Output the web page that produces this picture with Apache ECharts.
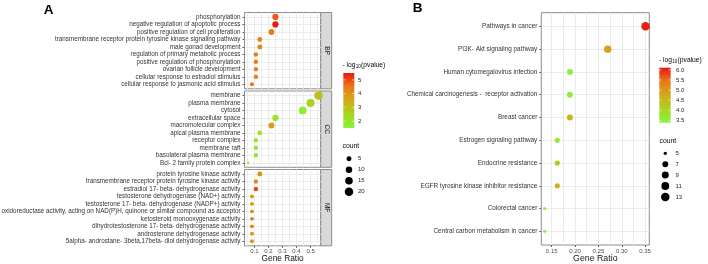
<!DOCTYPE html>
<html><head><meta charset="utf-8">
<script src="https://cdn.jsdelivr.net/npm/echarts@6/dist/echarts.min.js"></script>
<style>html,body{margin:0;padding:0;background:#fff}#c{width:708px;height:264px}</style>
</head><body><div id="c"></div>
<script>
// ---------- DATA ----------
const bpTerms = ['phosphorylation','negative regulation of apoptotic process','positive regulation of cell proliferation','transmembrane receptor protein tyrosine kinase signaling pathway','male gonad development','regulation of primary metabolic process','positive regulation of phosphorylation','ovarian follicle development','cellular response to estradiol stimulus','cellular response to jasmonic acid stimulus'];
const bpRatio = [0.25,0.25,0.222,0.139,0.139,0.111,0.111,0.111,0.111,0.083];
const bpCount = [9,9,8,5,5,4,4,4,4,3];
const bpLogP  = [4.8,5.45,4.4,4.3,4.3,4.4,4.4,4.3,4.3,4.6];

const ccTerms = ['membrane','plasma membrane','cytosol','extracellular space','macromolecular complex','apical plasma membrane','receptor complex','membrane raft','basolateral plasma membrane','Bcl- 2 family protein complex'];
const ccRatio = [0.556,0.5,0.444,0.25,0.222,0.139,0.111,0.111,0.111,0.056];
const ccCount = [20,18,16,9,8,5,4,4,4,2];
const ccLogP  = [3.0,2.5,1.7,2.0,3.8,2.1,1.95,1.95,1.95,1.6];

const mfTerms = ['protein tyrosine kinase activity','transmembrane receptor protein tyrosine kinase activity','estradiol 17- beta- dehydrogenase activity','testosterone dehydrogenase (NAD+) activity','testosterone 17- beta- dehydrogenase (NADP+) activity','oxidoreductase activity, acting on NAD(P)H, quinone or similar compound as acceptor','ketosteroid monooxygenase activity','dihydrotestosterone 17- beta- dehydrogenase activity','androsterone dehydrogenase activity','5alpha- androstane- 3beta,17beta- diol dehydrogenase activity'];
const mfRatio = [0.139,0.111,0.111,0.083,0.083,0.083,0.083,0.083,0.083,0.083];
const mfCount = [5,4,4,3,3,3,3,3,3,3];
const mfLogP  = [4.1,4.0,5.0,3.9,3.9,3.9,4.4,4.4,3.9,3.95];

const kgTerms = ['Pathways in cancer','PI3K- Akt signaling pathway','Human cytomegalovirus infection','Chemical carcinogenesis -  receptor activation','Breast cancer','Estrogen signaling pathway','Endocrine resistance','EGFR tyrosine kinase inhibitor resistance','Colorectal cancer','Central carbon metabolism in cancer'];
const kgRatio = [0.351,0.270,0.189,0.189,0.189,0.162,0.162,0.162,0.135,0.135];
const kgCount = [13,10,7,7,7,6,6,6,5,5];
const kgLogP  = [6.05,4.88,3.5,3.5,4.6,3.6,4.3,4.75,3.42,3.45];

const aTicks = [0.1,0.2,0.3,0.4,0.5];
const aGridLines = [0.05,0.1,0.15,0.2,0.25,0.3,0.35,0.4,0.45,0.5,0.55];
const bTicks = [0.15,0.2,0.25,0.3,0.35];
const bGridLines = [0.15,0.175,0.2,0.225,0.25,0.275,0.3,0.325,0.35];
const rowTicks = [1,2,3,4,5,6,7,8,9,10];
const aColorTicks = [2,3,4,5];
const bColorTicks = [3.5,4.0,4.5,5.0,5.5,6.0];
const aCountKeys = [5,10,15,20];
const bCountKeys = [5,7,9,11,13];
const facetNames = ['BP','CC','MF'];

// ---------- STYLE ----------
const FONT = "'Liberation Sans', Arial, Helvetica, sans-serif";
const colorStops = ['#86f43c','#aad41e','#d2aa1c','#e87a18','#ee1414'];
const A_MIN = 0.03, A_MAX = 0.572, A_C = [1.5, 5.5];
const B_MIN = 0.1277, B_MAX = 0.359, B_C = [3.38, 6.11];
const sizeA = c => 2.5 + 6 * Math.sqrt(Math.max(0, (c - 2) / 18));
const sizeB = c => 3.3 + 5.2 * Math.sqrt(Math.max(0, (c - 5) / 8));

const aLeft = 244.5, aW = 76.2, aH = 76.3, aTops = [12.5, 91, 169.5];
const bLeft = 541.3, bTop = 12.7, bW = 108, bH = 232.3;
const A_LABEL_FS = 6.3, B_LABEL_FS = 6.38;

const grids = aTops.map(t => ({left:aLeft, top:t, width:aW, height:aH}))
  .concat([{left:bLeft, top:bTop, width:bW, height:bH}])
  .map(g => Object.assign(g, {show:true, borderColor:'#8c8c8c', borderWidth:1, backgroundColor:'transparent', containLabel:false, outerBoundsMode:'none'}));

function gridX(gi, min, max, lines){
  return {type:'value', gridIndex:gi, min, max, position:'bottom',
    axisLine:{show:false}, axisLabel:{show:false},
    axisTick:{show:false, customValues:lines},
    splitLine:{show:true, customValues:lines, lineStyle:{color:'#ebebeb', width:1}},
    minorSplitLine:{show:false}};
}
function tickX(gi, min, max, ticks, dec, nameSize, gap){
  return {type:'value', gridIndex:gi, min, max, position:'bottom',
    axisLine:{show:false}, splitLine:{show:false},
    axisTick:{show:true, customValues:ticks, length:2, lineStyle:{color:'#333', width:0.8}},
    axisLabel:{show:true, customValues:ticks, formatter:v => v.toFixed(dec), fontSize:6, color:'#4d4d4d', margin:3, fontFamily:FONT},
    name:'Gene Ratio', nameLocation:'middle', nameGap:gap, nameMoveOverlap:false,
    nameTextStyle:{fontSize:nameSize, color:'#111', fontFamily:FONT, verticalAlign:'top'}};
}
function yAx(gi, cats, fs){
  return {type:'value', gridIndex:gi, min:0.4, max:cats.length + 0.6, inverse:true,
    axisLine:{show:false},
    axisTick:{show:true, customValues:rowTicks, length:2, lineStyle:{color:'#333', width:0.8}},
    splitLine:{show:true, customValues:rowTicks, lineStyle:{color:'#ebebeb', width:1}},
    axisLabel:{show:true, customValues:rowTicks, formatter:v => cats[Math.round(v) - 1] || '', fontSize:fs, color:'#333', margin:4, fontFamily:FONT}};
}
function mkSeries(xi, yi, ratio, count, logp, sizeFn){
  return {type:'scatter', xAxisIndex:xi, yAxisIndex:yi, silent:true,
    data: ratio.map((r, i) => [r, i + 1, count[i], logp[i]]),
    symbol:'circle', symbolSize: d => sizeFn(d[2]), itemStyle:{opacity:1}, animation:false};
}

const xAxes = [gridX(0,A_MIN,A_MAX,aGridLines), gridX(1,A_MIN,A_MAX,aGridLines), gridX(2,A_MIN,A_MAX,aGridLines),
  tickX(2,A_MIN,A_MAX,aTicks,1,8.3,9.3), gridX(3,B_MIN,B_MAX,bGridLines), tickX(3,B_MIN,B_MAX,bTicks,2,8.8,9.2)];
const yAxes = [yAx(0,bpTerms,A_LABEL_FS), yAx(1,ccTerms,A_LABEL_FS), yAx(2,mfTerms,A_LABEL_FS), yAx(3,kgTerms,B_LABEL_FS)];
const series = [mkSeries(0,0,bpRatio,bpCount,bpLogP,sizeA), mkSeries(1,1,ccRatio,ccCount,ccLogP,sizeA),
  mkSeries(2,2,mfRatio,mfCount,mfLogP,sizeA), mkSeries(4,3,kgRatio,kgCount,kgLogP,sizeB)];

// ---------- LEGEND GRAPHICS ----------
const ctx = document.createElement('canvas').getContext('2d');
function measure(text, fs){ ctx.font = fs + 'px ' + FONT; return ctx.measureText(text).width; }
const g = [];
function txt(x, y, text, fs, opt){ g.push({type:'text', x, y, silent:true, style:Object.assign({text, fontSize:fs, fontFamily:FONT, fill:'#000', align:'left', verticalAlign:'middle'}, opt||{})}); }
function colorbar(x, y, w, h, range, ticks, dec, labelX){
  const grad = new echarts.graphic.LinearGradient(0,0,0,1, colorStops.slice().reverse().map((c,i)=>({offset:i/(colorStops.length-1), color:c})));
  g.push({type:'rect', shape:{x, y, width:w, height:h}, style:{fill:grad}, silent:true});
  ticks.forEach(v => {
    const ty = y + (range[1] - v) / (range[1] - range[0]) * h;
    g.push({type:'line', shape:{x1:x, y1:ty, x2:x+2.2, y2:ty}, style:{stroke:'#fff', lineWidth:0.6}, silent:true});
    g.push({type:'line', shape:{x1:x+w-2.2, y1:ty, x2:x+w, y2:ty}, style:{stroke:'#fff', lineWidth:0.6}, silent:true});
    txt(labelX, ty, v.toFixed(dec), 6, {fill:'#222'});
  });
}
function pTitle(x, y){
  const fs = 6.7, fsSub = 4.6;
  const p1 = '- log', p2 = '10', p3 = '(pvalue)';
  const w1 = measure(p1, fs), w2 = measure(p2, fsSub);
  txt(x, y, p1, fs);
  txt(x + w1 + 0.2, y + 2.2, p2, fsSub);
  txt(x + w1 + w2 + 0.5, y, p3, fs);
}
function countLegend(x, y0, step, keys, sizeFn, titleX, titleY, labelX){
  txt(titleX, titleY, 'count', 6.8);
  keys.forEach((k, i) => {
    const d = sizeFn(k);
    g.push({type:'circle', shape:{cx:x, cy:y0 + i*step, r:d/2}, style:{fill:'#000'}, silent:true});
    txt(labelX, y0 + i*step, String(k), 6, {fill:'#222'});
  });
}
// Panel A legends
pTitle(342.5, 65);
colorbar(343.3, 73, 11, 55, A_C, aColorTicks, 0, 358);
countLegend(349, 158.7, 11, aCountKeys, sizeA, 342.5, 146, 358);
// Panel B legends
pTitle(659, 60);
colorbar(659.3, 67.7, 11.4, 55, B_C, bColorTicks, 1, 676);
countLegend(665.3, 153.3, 10.9, bCountKeys, sizeB, 659.5, 141, 675.5);
// Facet strips
aTops.forEach((t, i) => {
  g.push({type:'rect', shape:{x:aLeft+aW, y:t, width:11, height:aH}, style:{fill:'#d9d9d9', stroke:'#8c8c8c', lineWidth:1}, silent:true});
  g.push({type:'text', x:aLeft+aW+5.7, y:t+aH/2, rotation:-Math.PI/2, silent:true,
    style:{text:facetNames[i], fontSize:6.5, fontFamily:FONT, fill:'#1a1a1a', align:'center', verticalAlign:'middle'}});
});
// Panel letters
txt(48.5, 10, 'A', 13.5, {fontWeight:'bold', align:'center'});
txt(417.5, 8, 'B', 13.5, {fontWeight:'bold', align:'center'});

const chart = echarts.init(document.getElementById('c'), null, {renderer:'canvas'});
chart.setOption({
  backgroundColor:'#fff', animation:false,
  grid: grids, xAxis: xAxes, yAxis: yAxes, series,
  visualMap: [
    {type:'continuous', show:false, seriesIndex:[0,1,2], dimension:3, min:A_C[0], max:A_C[1], inRange:{color:colorStops}},
    {type:'continuous', show:false, seriesIndex:[3], dimension:3, min:B_C[0], max:B_C[1], inRange:{color:colorStops}}
  ],
  graphic: g
});
</script></body></html>
